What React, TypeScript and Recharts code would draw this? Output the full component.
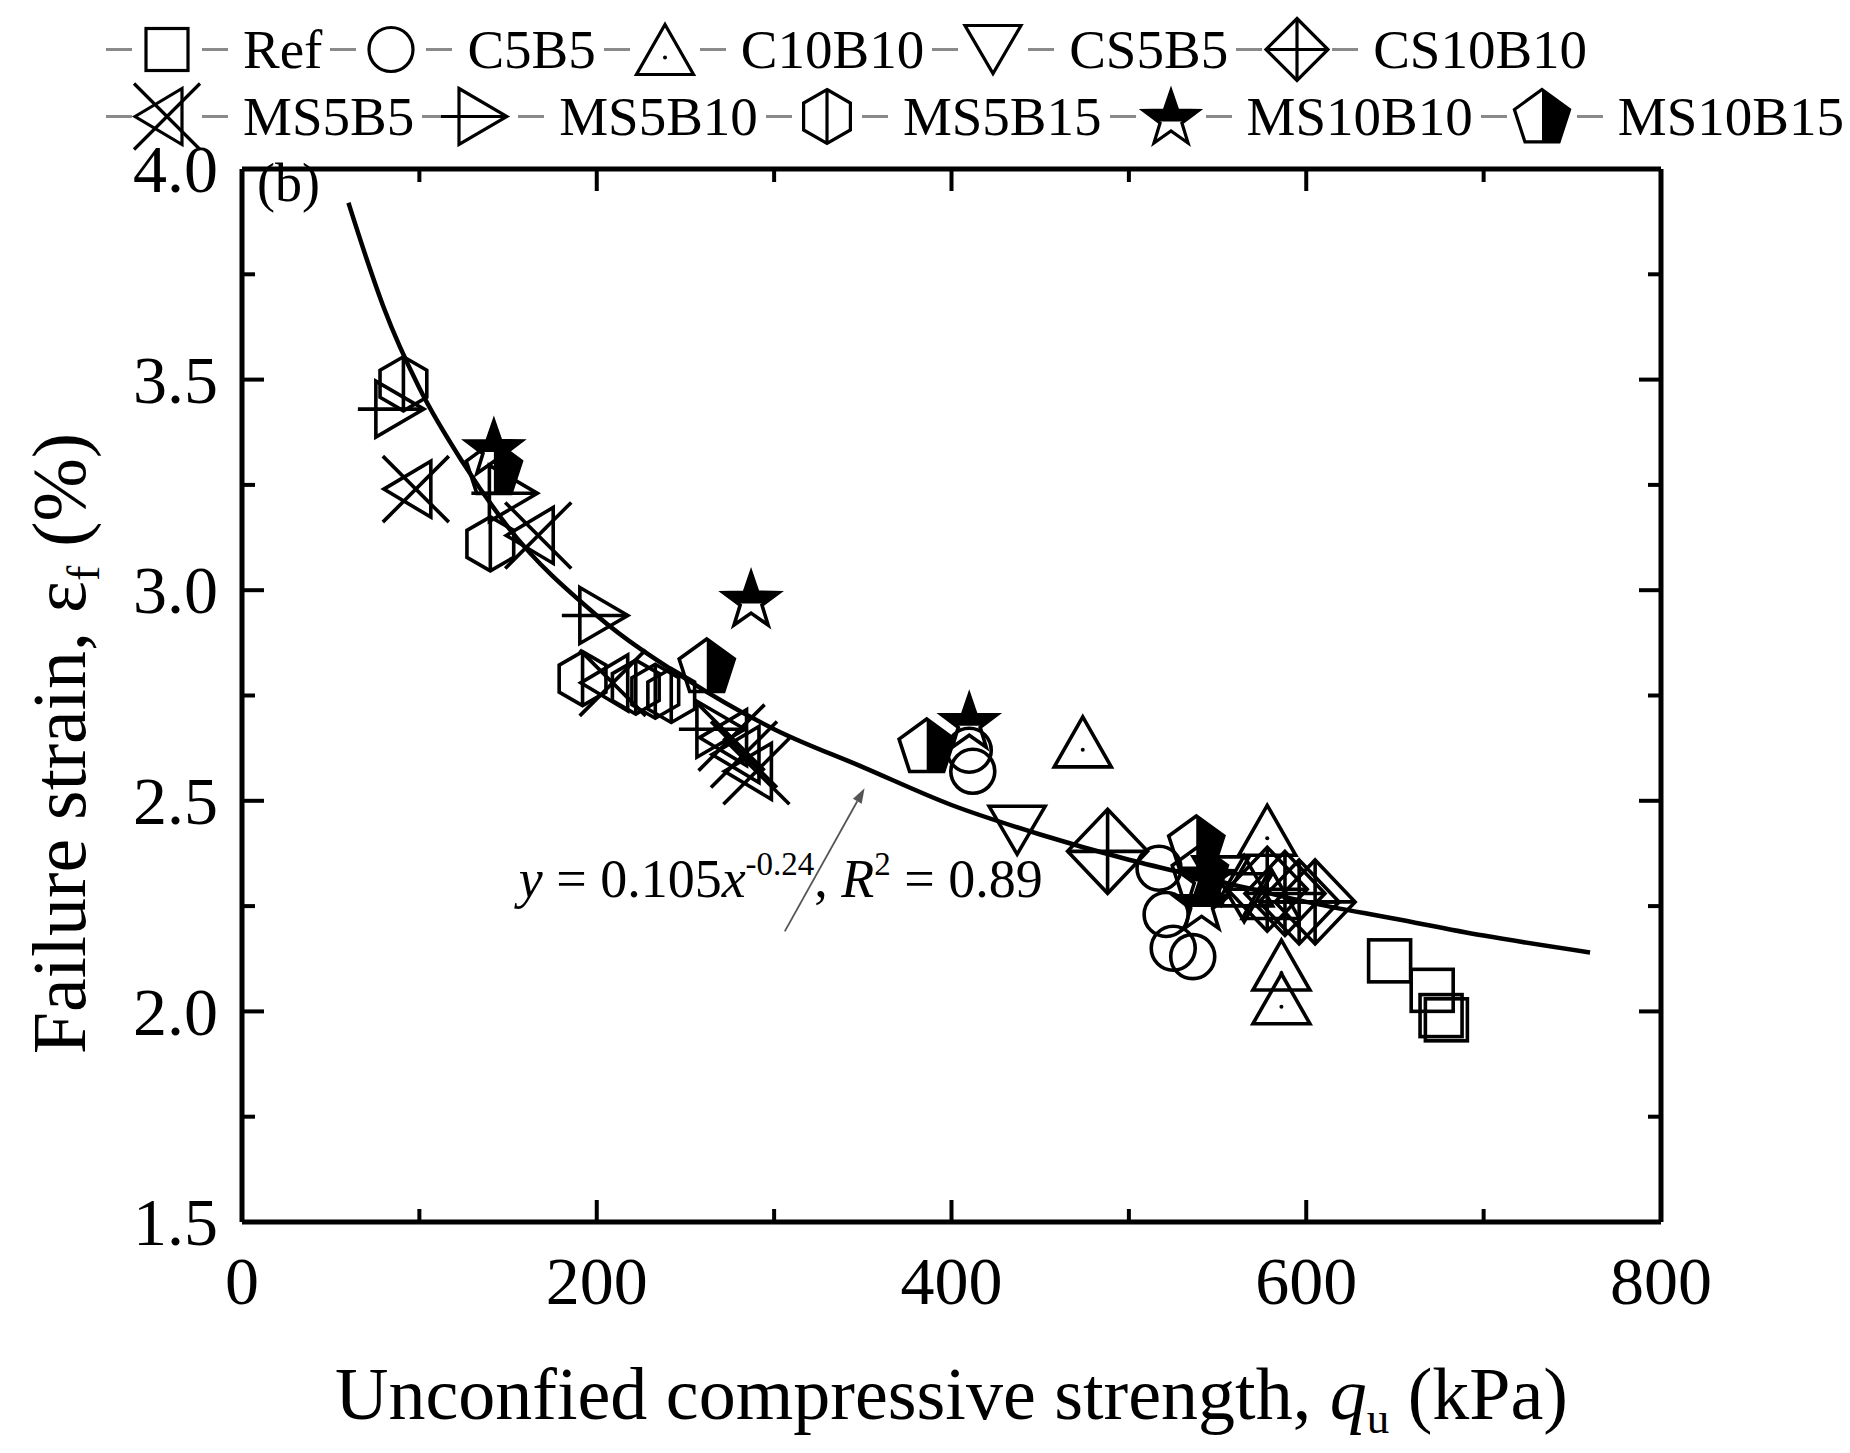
import React from "react";
import {
  ScatterChart,
  Scatter,
  XAxis,
  YAxis,
  Legend,
  Label,
  ReferenceDot,
  ReferenceLine,
} from "recharts";

const FONT = '"Liberation Serif", "Times New Roman", serif';

// values: qu (kPa) and failure strain (%)
const refQu = [647, 671, 676, 679];
const refEf = [2.12, 2.05, 1.99, 1.98];
const c5b5Qu = [410, 412, 517, 521, 525, 536];
const c5b5Ef = [2.62, 2.57, 2.34, 2.23, 2.15, 2.13];
const c10b10Qu = [474, 578, 565, 580, 586, 586];
const c10b10Ef = [2.64, 2.43, 2.31, 2.28, 2.11, 2.03];
const cs5b5Qu = [437, 552, 565];
const cs5b5Ef = [2.43, 2.31, 2.27];
const cs10b10Qu = [488, 578, 588, 596, 605];
const cs10b10Ef = [2.38, 2.29, 2.28, 2.26, 2.26];
const ms5b5Qu = [98, 167, 209, 276, 283, 290];
const ms5b5Ef = [3.24, 3.13, 2.78, 2.65, 2.61, 2.57];
const ms5b10Qu = [89, 153, 204, 270];
const ms5b10Ef = [3.43, 3.23, 2.94, 2.67];
const ms5b15Qu = [91, 140, 192, 222, 233, 242];
const ms5b15Ef = [3.49, 3.11, 2.79, 2.77, 2.76, 2.75];
const ms10b10Qu = [142, 287, 410, 543, 541];
const ms10b10Ef = [3.34, 2.98, 2.69, 2.32, 2.26];
const ms10b15Qu = [142, 262, 386, 538, 540];
const ms10b15Ef = [3.29, 2.82, 2.63, 2.4, 2.33];

// fitted power curve
const fitQu = [60, 70, 80, 100, 125, 150, 200, 250, 300, 350, 400, 450, 500, 550, 600, 650, 700, 760];
const fitEf = [3.92, 3.79, 3.67, 3.48, 3.3, 3.15, 2.94, 2.79, 2.67, 2.58, 2.49, 2.42, 2.36, 2.31, 2.26, 2.22, 2.18, 2.14];

const xTicks = [0, 100, 200, 300, 400, 500, 600, 700, 800];
const yTicks = [1.5, 1.75, 2.0, 2.25, 2.5, 2.75, 3.0, 3.25, 3.5, 3.75, 4.0];

type Kind =
  | "square"
  | "circle"
  | "triUp"
  | "triDown"
  | "diamond"
  | "xTri"
  | "lineTri"
  | "hex"
  | "star"
  | "pent";

const zip = (xs: number[], ys: number[]) => xs.map((x, i) => ({ x, y: ys[i] }));

const SERIES: { name: string; kind: Kind; qu: number[]; ef: number[] }[] = [
  { name: "Ref", kind: "square", qu: refQu, ef: refEf },
  { name: "C5B5", kind: "circle", qu: c5b5Qu, ef: c5b5Ef },
  { name: "C10B10", kind: "triUp", qu: c10b10Qu, ef: c10b10Ef },
  { name: "CS5B5", kind: "triDown", qu: cs5b5Qu, ef: cs5b5Ef },
  { name: "CS10B10", kind: "diamond", qu: cs10b10Qu, ef: cs10b10Ef },
  { name: "MS5B5", kind: "xTri", qu: ms5b5Qu, ef: ms5b5Ef },
  { name: "MS5B10", kind: "lineTri", qu: ms5b10Qu, ef: ms5b10Ef },
  { name: "MS5B15", kind: "hex", qu: ms5b15Qu, ef: ms5b15Ef },
  { name: "MS10B10", kind: "star", qu: ms10b10Qu, ef: ms10b10Ef },
  { name: "MS10B15", kind: "pent", qu: ms10b15Qu, ef: ms10b15Ef },
];

const pts = (p: number[][]) => p.map((q) => q.join(",")).join(" ");

// keep the part of a polygon where f >= 0
function clipHalf(p: number[][], f: (q: number[]) => number) {
  const out: number[][] = [];
  for (let i = 0; i < p.length; i++) {
    const a = p[i];
    const b = p[(i + 1) % p.length];
    const fa = f(a);
    const fb = f(b);
    if (fa >= 0) out.push(a);
    if (fa >= 0 !== fb >= 0) {
      const t = fa / (fa - fb);
      out.push([a[0] + t * (b[0] - a[0]), a[1] + t * (b[1] - a[1])]);
    }
  }
  return out;
}

function ring(cx: number, cy: number, n: number, R: number, start: number, r2?: number) {
  const out: number[][] = [];
  const m = r2 ? n * 2 : n;
  for (let i = 0; i < m; i++) {
    const a = ((start + (360 / m) * i) * Math.PI) / 180;
    const rr = r2 && i % 2 === 1 ? r2 : R;
    out.push([cx + rr * Math.cos(a), cy + rr * Math.sin(a)]);
  }
  return out;
}

function Marker({ kind, cx, cy, legend }: { kind: Kind; cx: number; cy: number; legend?: boolean }) {
  const st = { fill: "none", stroke: "#000", strokeWidth: legend ? 3.2 : 3.6 };
  switch (kind) {
    case "square":
      return <rect x={cx - 21} y={cy - 21} width={42} height={42} {...st} />;
    case "circle":
      return <circle cx={cx} cy={cy} r={22} {...st} />;
    case "triUp":
      return (
        <g>
          <polygon points={pts([[cx, cy - 25], [cx + 28.5, cy + 25], [cx - 28.5, cy + 25]])} {...st} />
          <circle cx={cx} cy={cy + 8} r={2} fill="#000" />
        </g>
      );
    case "triDown":
      return <polygon points={pts([[cx - 28, cy - 24], [cx + 28, cy - 24], [cx, cy + 24]])} {...st} />;
    case "diamond": {
      const w = legend ? 31 : 40;
      const h = legend ? 31 : 42;
      return (
        <g>
          <polygon points={pts([[cx, cy - h], [cx + w, cy], [cx, cy + h], [cx - w, cy]])} {...st} />
          <line x1={cx} x2={cx} y1={cy - h} y2={cy + h} {...st} />
          <line x1={cx - w} x2={cx + w} y1={cy} y2={cy} {...st} />
        </g>
      );
    }
    case "xTri":
      return (
        <g>
          <polygon points={pts([[cx - 32, cy], [cx + 15, cy - 28], [cx + 15, cy + 28]])} {...st} />
          <line x1={cx - 33} y1={cy - 33} x2={cx + 33} y2={cy + 33} {...st} />
          <line x1={cx - 33} y1={cy + 33} x2={cx + 33} y2={cy - 33} {...st} />
        </g>
      );
    case "lineTri":
      return (
        <g>
          <polygon points={pts([[cx - 24, cy - 28], [cx + 24, cy], [cx - 24, cy + 28]])} {...st} />
          <line x1={cx - 42} x2={cx + 24} y1={cy} y2={cy} {...st} />
        </g>
      );
    case "hex": {
      const p = ring(cx, cy, 6, 27, -90);
      return (
        <g>
          <polygon points={pts(p)} {...st} />
          <line x1={cx} x2={cx} y1={cy - 27} y2={cy + 27} {...st} />
        </g>
      );
    }
    case "star": {
      const p = ring(cx, cy + 3, 5, 29, -90, 11.5);
      const top = clipHalf(p, (q) => cy + 5 - q[1]);
      return (
        <g>
          <polygon points={pts(top)} fill="#000" stroke="none" />
          <polygon points={pts(p)} {...st} />
        </g>
      );
    }
    case "pent": {
      const p = ring(cx, cy + 2, 5, 29, -90);
      const right = clipHalf(p, (q) => q[0] - cx);
      return (
        <g>
          <polygon points={pts(right)} fill="#000" stroke="none" />
          <polygon points={pts(p)} {...st} />
        </g>
      );
    }
  }
  return null;
}

const renderLegend = () => (
  <div style={{ fontFamily: FONT, fontSize: 55, paddingLeft: 106 }}>
    {[SERIES.slice(0, 5), SERIES.slice(5)].map((row, ri) => (
      <div
        key={ri}
        style={{ display: "flex", alignItems: "center", height: 63, marginTop: ri ? 4 : 0, whiteSpace: "nowrap" }}
      >
        {row.map((s) => (
          <div key={s.name} style={{ display: "flex", alignItems: "center", marginRight: 8 }}>
            <svg width={122} height={63} style={{ overflow: "visible" }}>
              <line x1={0} x2={26} y1={31.5} y2={31.5} stroke="#8a8a8a" strokeWidth={3} />
              <line x1={96} x2={122} y1={31.5} y2={31.5} stroke="#8a8a8a" strokeWidth={3} />
              <Marker kind={s.kind} cx={61} cy={31.5} legend />
            </svg>
            <span style={{ marginLeft: 15, lineHeight: "63px" }}>{s.name}</span>
          </div>
        ))}
      </div>
    ))}
  </div>
);

const LeftTick = (p: any) => {
  const v = p.payload.value;
  const major = Math.abs(v * 2 - Math.round(v * 2)) < 1e-6;
  return (
    <g>
      <line x1={p.x} x2={p.x + (major ? 22 : 13)} y1={p.y} y2={p.y} stroke="#000" strokeWidth={4} />
      {major && (
        <text x={p.x - 24} y={p.y} dy="0.34em" textAnchor="end" fontFamily={FONT} fontSize={68} fill="#000">
          {v.toFixed(1)}
        </text>
      )}
    </g>
  );
};

const RightTick = (p: any) => {
  const v = p.payload.value;
  const major = Math.abs(v * 2 - Math.round(v * 2)) < 1e-6;
  return <line x1={p.x} x2={p.x - (major ? 22 : 13)} y1={p.y} y2={p.y} stroke="#000" strokeWidth={4} />;
};

const BottomTick = (p: any) => {
  const v = p.payload.value;
  const major = v % 200 === 0;
  return (
    <g>
      <line x1={p.x} x2={p.x} y1={p.y} y2={p.y - (major ? 22 : 13)} stroke="#000" strokeWidth={4} />
      {major && (
        <text x={p.x} y={p.y + 82} textAnchor="middle" fontFamily={FONT} fontSize={68} fill="#000">
          {v}
        </text>
      )}
    </g>
  );
};

const TopTick = (p: any) => {
  const v = p.payload.value;
  const major = v % 200 === 0;
  return <line x1={p.x} x2={p.x} y1={p.y} y2={p.y + (major ? 22 : 13)} stroke="#000" strokeWidth={4} />;
};

const XTitle = (p: any) => {
  const vb = p.viewBox;
  return (
    <text
      x={vb.x + vb.width / 2}
      y={vb.y + 197}
      textAnchor="middle"
      fontFamily={FONT}
      fontSize={74}
      fill="#000"
      style={{ whiteSpace: "pre" }}
    >
      Unconfied compressive strength,{" "}
      <tspan fontStyle="italic">q</tspan>
      <tspan fontSize={45} dy={14}>u</tspan>
      <tspan dy={-14}> (kPa)</tspan>
    </text>
  );
};

const YTitle = (p: any) => {
  const vb = p.viewBox;
  const tx = vb.x - 97;
  const ty = vb.y + vb.height / 2 + 48;
  return (
    <text
      transform={`translate(${tx},${ty}) rotate(-90)`}
      textAnchor="middle"
      fontFamily={FONT}
      fontSize={76}
      fill="#000"
      style={{ whiteSpace: "pre" }}
    >
      Failure strain, ε<tspan fontSize={46} dy={14}>f</tspan>
      <tspan dy={-14}> (%)</tspan>
    </text>
  );
};

const Equation = (p: any) => (
  <text x={p.cx} y={p.cy} fontFamily={FONT} fontSize={54} fill="#000" style={{ whiteSpace: "pre" }}>
    <tspan fontStyle="italic">y</tspan> = 0.105<tspan fontStyle="italic">x</tspan>
    <tspan fontSize={33} dy={-22}>-0.24</tspan>
    <tspan dy={22}>, </tspan>
    <tspan fontStyle="italic">R</tspan>
    <tspan fontSize={33} dy={-22}>2</tspan>
    <tspan dy={22}> = 0.89</tspan>
  </text>
);

const PanelTag = (p: any) => (
  <text x={p.cx} y={p.cy} fontFamily={FONT} fontSize={54} fill="#000">
    (b)
  </text>
);

const Arrow = (p: any) => {
  const { x1, y1, x2, y2 } = p;
  const a = Math.atan2(y2 - y1, x2 - x1);
  const bx = x2 - 15 * Math.cos(a);
  const by = y2 - 15 * Math.sin(a);
  const nx = -Math.sin(a) * 5;
  const ny = Math.cos(a) * 5;
  return (
    <g>
      <line x1={x1} y1={y1} x2={bx} y2={by} stroke="#555" strokeWidth={1.8} />
      <polygon points={`${x2},${y2} ${bx + nx},${by + ny} ${bx - nx},${by - ny}`} fill="#555" />
    </g>
  );
};

const axisLine = { stroke: "#000", strokeWidth: 5 };

export default function App() {
  return (
    <div style={{ position: "absolute", left: 0, top: 0, width: 1850, height: 1453, background: "#fff" }}>
      <ScatterChart width={1850} height={1453} margin={{ top: 139, right: 129, bottom: 201, left: 182 }}>
        <XAxis
          type="number"
          dataKey="x"
          domain={[0, 800]}
          ticks={xTicks}
          tick={<BottomTick />}
          tickLine={false}
          tickSize={0}
          tickMargin={0}
          axisLine={axisLine}
          height={30}
          interval={0}
        >
          <Label content={<XTitle />} />
        </XAxis>
        <XAxis
          xAxisId="top"
          orientation="top"
          type="number"
          dataKey="x"
          domain={[0, 800]}
          ticks={xTicks}
          tick={<TopTick />}
          tickLine={false}
          tickSize={0}
          tickMargin={0}
          axisLine={axisLine}
          height={30}
          interval={0}
        />
        <YAxis
          type="number"
          dataKey="y"
          domain={[1.5, 4.0]}
          ticks={yTicks}
          tick={<LeftTick />}
          tickLine={false}
          tickSize={0}
          tickMargin={0}
          axisLine={axisLine}
          width={60}
          interval={0}
        >
          <Label content={<YTitle />} />
        </YAxis>
        <YAxis
          yAxisId="right"
          orientation="right"
          type="number"
          dataKey="y"
          domain={[1.5, 4.0]}
          ticks={yTicks}
          tick={<RightTick />}
          tickLine={false}
          tickSize={0}
          tickMargin={0}
          axisLine={axisLine}
          width={60}
          interval={0}
        />
        <Legend
          content={renderLegend}
          layout="horizontal"
          verticalAlign="middle"
          align="center"
          wrapperStyle={{ top: 18, left: 0, width: 1850 }}
        />
        <Scatter
          name="fit"
          data={zip(fitQu, fitEf)}
          xAxisId="top"
          yAxisId="right"
          stroke="#000"
          strokeWidth={4.5}
          line={{ stroke: "#000", strokeWidth: 4.5 }}
          lineJointType="monotoneX"
          shape={() => <g />}
          isAnimationActive={false}
        />
        {SERIES.map((s) => (
          <Scatter
            key={s.name}
            name={s.name}
            data={zip(s.qu, s.ef)}
            shape={(p: any) => <Marker kind={s.kind} cx={p.cx} cy={p.cy} />}
            isAnimationActive={false}
          />
        ))}
        <ReferenceLine
          segment={[
            { x: 306, y: 2.19 },
            { x: 351, y: 2.53 },
          ]}
          shape={<Arrow />}
        />
        <ReferenceDot x={156} y={2.272} r={0} shape={<Equation />} />
        <ReferenceDot x={8.5} y={3.925} r={0} shape={<PanelTag />} />
      </ScatterChart>
    </div>
  );
}
